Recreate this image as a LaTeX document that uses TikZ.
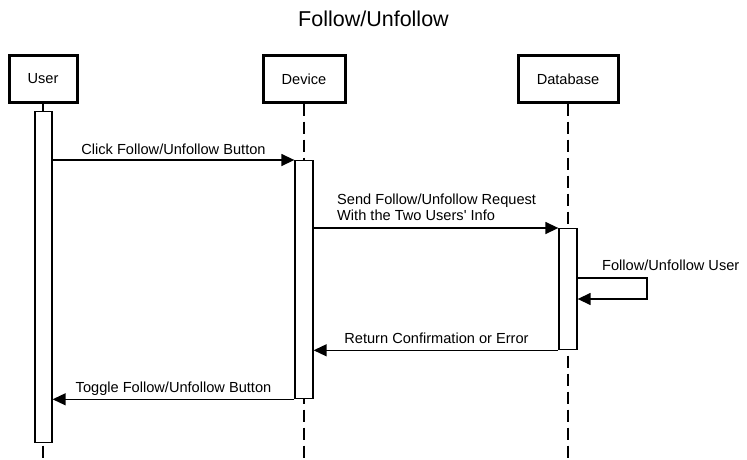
\documentclass[tikz,border=0pt]{standalone}
\usepackage{fontspec}
\setmainfont{Liberation Sans}
\usetikzlibrary{arrows.meta}
\begin{document}
\begin{tikzpicture}[x=1pt,y=-1pt,
  txt/.style={font=\fontsize{14.6}{16}\selectfont},
  actor/.style={draw, line width=3pt, minimum height=46pt, inner sep=0pt, txt},
  act/.style={draw, fill=white, line width=1.3pt, inner sep=0pt, anchor=north},
  life/.style={line width=1.3pt, dash pattern=on 12pt off 6pt},
  msg/.style={line width=1.4pt, -{Triangle[length=13pt,width=12pt]}},
  lbl/.style={txt, inner sep=0pt}]
\useasboundingbox (0,0) rectangle (747,460);
\node[font=\fontsize{21.5}{24}\selectfont, anchor=base, inner sep=0pt] (title) at (373.5,27) {Follow/Unfollow};
% actors
\node[actor, minimum width=68pt] (user) at (43,79) {User};
\node[actor, minimum width=82pt] (dev) at (304,79) {Device};
\node[actor, minimum width=100pt] (db) at (568,79) {Database};
% lifelines
\coordinate (uend) at (43,460);
\coordinate (dend) at (304,460);
\coordinate (dbend) at (568,460);
\draw[life] (user.south) -- (uend);
\draw[life] (dev.south) -- (dend);
\draw[life] (db.south) -- (dbend);
% activations
\node[act, minimum width=17pt, minimum height=331pt] (ua) at (43.5,111) {};
\node[act, minimum width=18pt, minimum height=238pt] (da) at (304,160) {};
\node[act, minimum width=18pt, minimum height=121pt] (dba) at (568,228) {};
% messages
\draw[msg] (ua.east |- da.north) -- (da.north west);
\node[lbl, anchor=base] (l1) at (173.5,154) {Click Follow/Unfollow Button};
\draw[msg] (da.east |- dba.north) -- (dba.north west);
\node[lbl, anchor=base west, align=left] (l2) at (337,220) {Send Follow/Unfollow Request\\With the Two Users\textquotesingle{} Info};
\coordinate (s1) at (647,278);
\coordinate (s2) at (647,299);
\draw[msg] (dba.east |- s1) -- (s1) -- (s2) -- (dba.east |- s2);
\node[lbl, anchor=base west] (l3) at (602,270) {Follow/Unfollow User};
\draw[msg] (dba.south west) -- (da.east |- dba.south);
\node[lbl, anchor=base] (l4) at (436.5,343) {Return Confirmation or Error};
\draw[msg] (da.south west) -- (ua.east |- da.south);
\node[lbl, anchor=base] (l5) at (173.5,392) {Toggle Follow/Unfollow Button};
\end{tikzpicture}
\end{document}
